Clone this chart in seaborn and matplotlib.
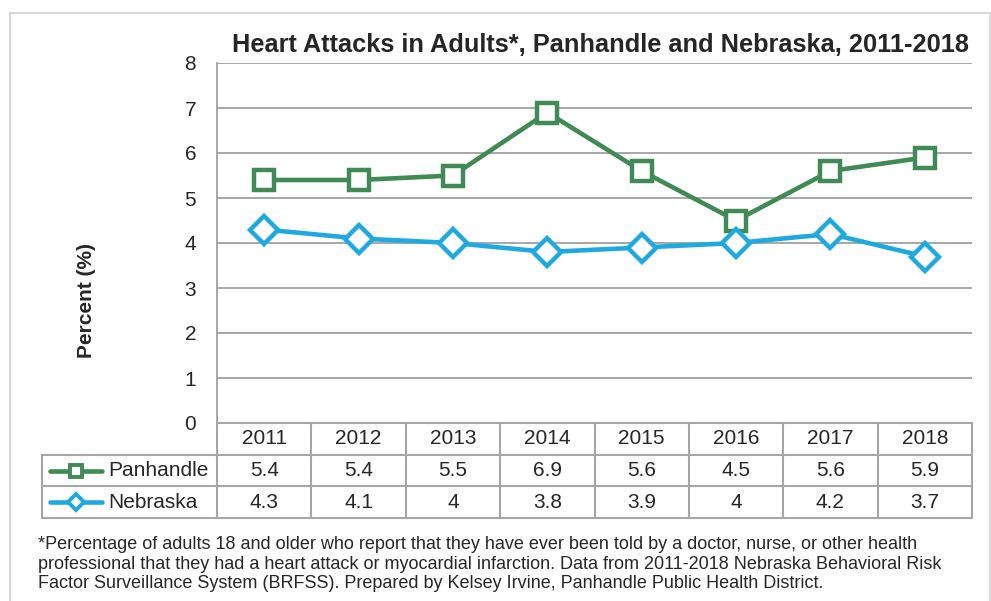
import numpy as np
import pandas as pd
import matplotlib.pyplot as plt
import matplotlib.patches as mpatches
from matplotlib.lines import Line2D
import seaborn as sns

# data
years = ["2011", "2012", "2013", "2014", "2015", "2016", "2017", "2018"]
panhandle = [5.4, 5.4, 5.5, 6.9, 5.6, 4.5, 5.6, 5.9]
nebraska = [4.3, 4.1, 4.0, 3.8, 3.9, 4.0, 4.2, 3.7]
series_names = ["Panhandle", "Nebraska"]
table_labels = {"Panhandle": ["5.4", "5.4", "5.5", "6.9", "5.6", "4.5", "5.6", "5.9"],
                "Nebraska": ["4.3", "4.1", "4", "3.8", "3.9", "4", "4.2", "3.7"]}
yticks = [0, 1, 2, 3, 4, 5, 6, 7, 8]

colors = {"Panhandle": "#3f8a55", "Nebraska": "#1fa9e1"}
markers = {"Panhandle": "s", "Nebraska": "D"}

df = pd.DataFrame({
    "year": years * 2,
    "value": panhandle + nebraska,
    "series": ["Panhandle"] * len(years) + ["Nebraska"] * len(years),
})
df["pos"] = np.tile(np.arange(len(years)), 2)

sns.set_theme(style="white")
plt.rcParams["font.family"] = ["Liberation Sans", "DejaVu Sans"]

W, H = 991, 601
fig = plt.figure(figsize=(W / 100, H / 100), dpi=100)

def box(x0, y0, x1, y1):
    # pixel box (top-left origin) -> figure fraction rect
    return [x0 / W, 1 - y1 / H, (x1 - x0) / W, (y1 - y0) / H]

# outer light frame
fig.patches.append(mpatches.Rectangle((10 / W, -0.1), 980 / W, 1.1 - 13 / H,
                                      transform=fig.transFigure, fill=False,
                                      edgecolor="#d9d9d9", lw=1.5))

ax = fig.add_axes(box(217, 63, 972, 423))
sns.lineplot(data=df, x="pos", y="value", hue="series", style="series",
             hue_order=series_names, style_order=series_names,
             palette=colors, markers=markers, dashes=False, ax=ax,
             lw=3.3, markersize=14, markerfacecolor="white",
             markeredgewidth=3.2, legend=False, zorder=3)
for line in ax.lines:
    line.set_markeredgecolor(line.get_color())

n = len(years)
ax.set_xlim(-0.5, n - 0.5)
ax.set_ylim(0, 8)
ax.set_yticks(yticks)
ax.set_yticklabels([str(t) for t in yticks], fontsize=15)
ax.tick_params(axis="y", length=0, pad=15)
ax.set_xticks([])
ax.set_xlabel("")
ax.set_ylabel("")
ax.grid(axis="y", color="#a0a0a0", lw=1.3)
for s in ["top", "right", "bottom"]:
    ax.spines[s].set_visible(False)
ax.spines["left"].set_color("#a0a0a0")
ax.spines["left"].set_linewidth(1.3)

fig.text(600 / W, 1 - 45 / H, "Heart Attacks in Adults*, Panhandle and Nebraska, 2011-2018",
         ha="center", va="center", fontsize=18.3, fontweight="bold")
fig.text(87 / W, 1 - 300 / H, "Percent (%)", rotation=90, ha="center", va="center",
         fontsize=15, fontweight="bold")

# data table below the plot
tax = fig.add_axes(box(42, 423, 972, 518))
unit = (972 - 217) / n
xleft = -0.5 - (217 - 42) / unit
tax.set_xlim(xleft, n - 0.5)
tax.set_ylim(3, 0)
tax.axis("off")
gc = "#a6a6a6"
glw = 1.5
tax.plot([-0.5, n - 0.5], [0, 0], color=gc, lw=glw, clip_on=False)
for r in [1, 2, 3]:
    tax.plot([xleft, n - 0.5], [r, r], color=gc, lw=glw, clip_on=False)
for k in range(n + 1):
    tax.plot([k - 0.5, k - 0.5], [0, 3], color=gc, lw=glw, clip_on=False)
tax.plot([xleft, xleft], [1, 3], color=gc, lw=glw, clip_on=False)

for i, yr in enumerate(years):
    tax.text(i, 0.5, yr, ha="center", va="center", fontsize=15)
for r, name in enumerate(series_names, start=1):
    for i, v in enumerate(table_labels[name]):
        tax.text(i, r + 0.5, v, ha="center", va="center", fontsize=15)
    kx0 = xleft + 8 / unit
    kx1 = xleft + 60 / unit
    tax.add_line(Line2D([kx0, kx1], [r + 0.5, r + 0.5], color=colors[name], lw=3.3,
                        clip_on=False))
    tax.add_line(Line2D([(kx0 + kx1) / 2], [r + 0.5], marker=markers[name],
                        markersize=8 if name == "Panhandle" else 8.5,
                        markerfacecolor="white", markeredgecolor=colors[name],
                        markeredgewidth=2.8, clip_on=False))
    tax.text(xleft + 66 / unit, r + 0.5, name, ha="left", va="center", fontsize=15)

footnote = ("*Percentage of adults 18 and older who report that they have ever been told by a doctor, nurse, or other health\n"
            "professional that they had a heart attack or myocardial infarction. Data from 2011-2018 Nebraska Behavioral Risk\n"
            "Factor Surveillance System (BRFSS). Prepared by Kelsey Irvine, Panhandle Public Health District.")
fig.text(38 / W, 1 - 536 / H, footnote, ha="left", va="top", fontsize=13.0, linespacing=1.2)

fig.savefig("out.png", dpi=100)
